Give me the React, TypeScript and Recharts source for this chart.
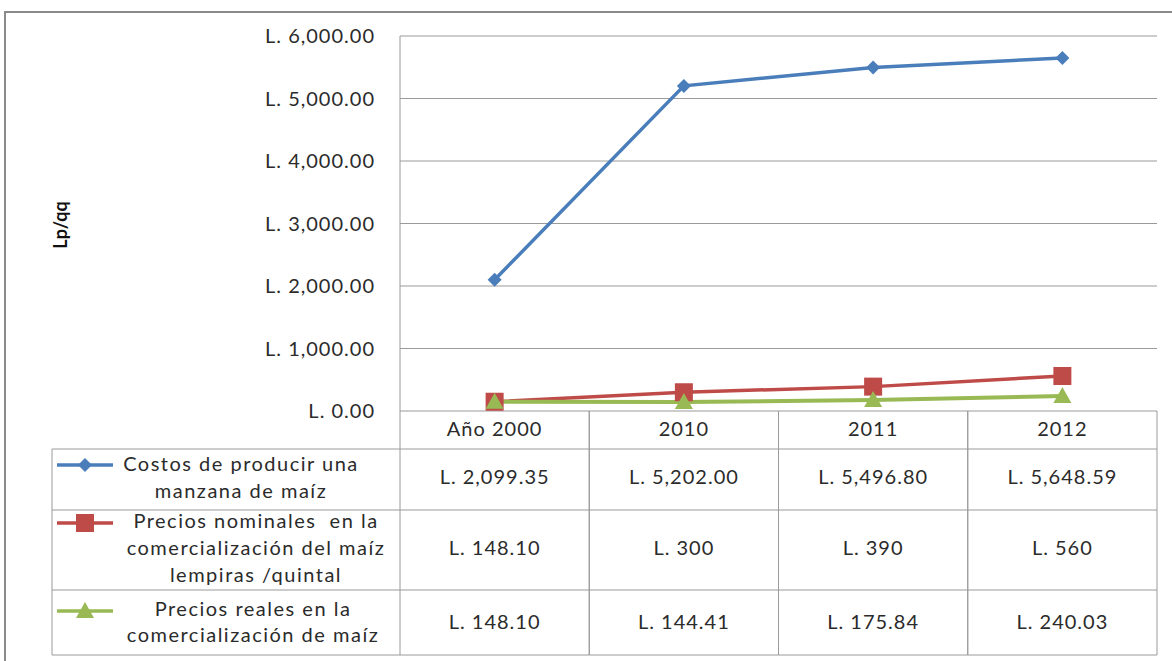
import { LineChart, Line, XAxis, YAxis, CartesianGrid } from 'recharts';

const categories = ['Año 2000', '2010', '2011', '2012'];
const costos = [2099.35, 5202.0, 5496.8, 5648.59];
const nominales = [148.1, 300, 390, 560];
const reales = [148.1, 144.41, 175.84, 240.03];

// texts shown in the data table under the chart
const costosText = ['L. 2,099.35', 'L. 5,202.00', 'L. 5,496.80', 'L. 5,648.59'];
const nominalesText = ['L. 148.10', 'L. 300', 'L. 390', 'L. 560'];
const realesText = ['L. 148.10', 'L. 144.41', 'L. 175.84', 'L. 240.03'];
const yTicks = [0, 1000, 2000, 3000, 4000, 5000, 6000];

const data = categories.map((cat, i) => ({
  cat,
  costos: costos[i],
  nominales: nominales[i],
  reales: reales[i],
}));

const BLUE = '#4A7EBB';
const RED = '#BE4B48';
const GREEN = '#98B954';
const GRID = '#9A9A9A';
const FONT = 'Lato, "Open Sans", sans-serif';
const TXT = '#2b2b2b';

const PLOT_LEFT = 400;
const PLOT_RIGHT = 1157;
const PLOT_TOP = 36;
const PLOT_BOTTOM = 411;
const COL_W = (PLOT_RIGHT - PLOT_LEFT) / categories.length;
const ROWS = [449, 510, 590, 655];
const LEG_LEFT = 52;

const fmtY = (v: number) =>
  'L. ' + v.toLocaleString('en-US', { minimumFractionDigits: 2, maximumFractionDigits: 2 });

const Diamond = ({ cx, cy, fill }: any) => (
  <path d={`M${cx},${cy - 7} L${cx + 7},${cy} L${cx},${cy + 7} L${cx - 7},${cy} Z`} fill={fill} />
);
const Square = ({ cx, cy, fill }: any) => (
  <rect x={cx - 9} y={cy - 9} width={18} height={18} fill={fill} />
);
const Triangle = ({ cx, cy, fill }: any) => (
  <path d={`M${cx},${cy - 9} L${cx + 9},${cy + 7} L${cx - 9},${cy + 7} Z`} fill={fill} />
);

const txt = { fontFamily: FONT, fontSize: 20, fill: TXT, letterSpacing: 1 } as const;
const legTxt = { ...txt, letterSpacing: 1.5 } as const;

const legendRows = [
  { color: BLUE, Marker: Diamond, iconY: 465, cx: 241, lines: ['Costos de producir una', 'manzana de maíz'], ys: [466, 493] },
  {
    color: RED,
    Marker: Square,
    iconY: 523,
    cx: 256,
    lines: ['Precios nominales  en la', 'comercialización del maíz', 'lempiras /quintal'],
    ys: [523, 550, 577],
  },
  { color: GREEN, Marker: Triangle, iconY: 611, cx: 253, lines: ['Precios reales en la', 'comercialización de maíz'], ys: [611, 637] },
];

const LegendColumn = () => (
  <g>
    <line x1={LEG_LEFT} x2={LEG_LEFT} y1={ROWS[0]} y2={ROWS[3]} stroke={GRID} />
    {ROWS.map((y) => (
      <line key={y} x1={LEG_LEFT} x2={PLOT_LEFT} y1={y} y2={y} stroke={GRID} />
    ))}
    {legendRows.map((r, i) => (
      <g key={i}>
        <line x1={57} x2={113} y1={r.iconY} y2={r.iconY} stroke={r.color} strokeWidth={3.5} />
        <r.Marker cx={85} cy={r.iconY} fill={r.color} />
        {r.lines.map((l, j) => (
          <text key={j} x={r.cx} y={r.ys[j]} textAnchor="middle" dominantBaseline="middle" style={{ whiteSpace: 'pre' }} {...legTxt}>
            {l}
          </text>
        ))}
      </g>
    ))}
  </g>
);

// each x tick draws its own column of the data table
const TableColumn = (props: any) => {
  const { x, payload } = props;
  const i = payload.index ?? categories.indexOf(payload.value);
  const left = x - COL_W / 2;
  const right = x + COL_W / 2;
  const cells = [costosText[i], nominalesText[i], realesText[i]];
  const cellY = [479, 550, 624];
  return (
    <g>
      {i === 0 && <LegendColumn />}
      <line x1={left} x2={left} y1={PLOT_BOTTOM} y2={ROWS[3]} stroke={GRID} />
      <line x1={right} x2={right} y1={PLOT_BOTTOM} y2={ROWS[3]} stroke={GRID} />
      {ROWS.map((y) => (
        <line key={y} x1={left} x2={right} y1={y} y2={y} stroke={GRID} />
      ))}
      <text x={x} y={431} textAnchor="middle" dominantBaseline="middle" {...txt}>
        {payload.value}
      </text>
      {cells.map((c, k) => (
        <text key={k} x={x} y={cellY[k]} textAnchor="middle" dominantBaseline="middle" {...txt}>
          {c}
        </text>
      ))}
    </g>
  );
};

export default function App() {
  return (
    <div style={{ position: 'absolute', left: 0, top: 0, width: 1172, height: 661, overflow: 'hidden', background: '#fff' }}>
      <div
        style={{
          position: 'absolute',
          left: 4,
          top: 11,
          width: 1200,
          height: 700,
          border: '2px solid #8a8a8a',
        }}
      />
      <div style={{ position: 'absolute', left: 0, top: 0 }}>
        <LineChart
          width={1172}
          height={661}
          data={data}
          margin={{ top: PLOT_TOP, right: 1172 - PLOT_RIGHT, left: 0, bottom: 0 }}
        >
          <CartesianGrid vertical={false} stroke={GRID} />
          <XAxis
            dataKey="cat"
            height={661 - PLOT_BOTTOM}
            interval={0}
            axisLine={false}
            tickLine={false}
            padding={{ left: COL_W / 2, right: COL_W / 2 }}
            tick={<TableColumn />}
          />
          <YAxis
            width={PLOT_LEFT}
            domain={[0, 6000]}
            ticks={yTicks}
            interval={0}
            tickFormatter={fmtY}
            axisLine={{ stroke: GRID }}
            tickLine={false}
            tickSize={0}
            tickMargin={25}
            tick={{ ...txt, fontSize: 20 }}
            label={{
              content: () => (
                <text
                  x={62}
                  y={225}
                  transform="rotate(-90 62 225)"
                  textAnchor="middle"
                  dominantBaseline="middle"
                  fontFamily={FONT}
                  fontSize={18}
                  fontWeight="bold"
                  fill="#111"
                >
                  Lp/qq
                </text>
              ),
            }}
          />
          <Line
            dataKey="costos"
            stroke={BLUE}
            strokeWidth={3.5}
            dot={(p: any) => <Diamond key={`d${p.index}`} cx={p.cx} cy={p.cy} fill={BLUE} />}
            activeDot={false}
            isAnimationActive={false}
          />
          <Line
            dataKey="nominales"
            stroke={RED}
            strokeWidth={3.5}
            dot={(p: any) => <Square key={`s${p.index}`} cx={p.cx} cy={p.cy} fill={RED} />}
            activeDot={false}
            isAnimationActive={false}
          />
          <Line
            dataKey="reales"
            stroke={GREEN}
            strokeWidth={4}
            dot={(p: any) => <Triangle key={`t${p.index}`} cx={p.cx} cy={p.cy} fill={GREEN} />}
            activeDot={false}
            isAnimationActive={false}
          />
        </LineChart>
      </div>
    </div>
  );
}
